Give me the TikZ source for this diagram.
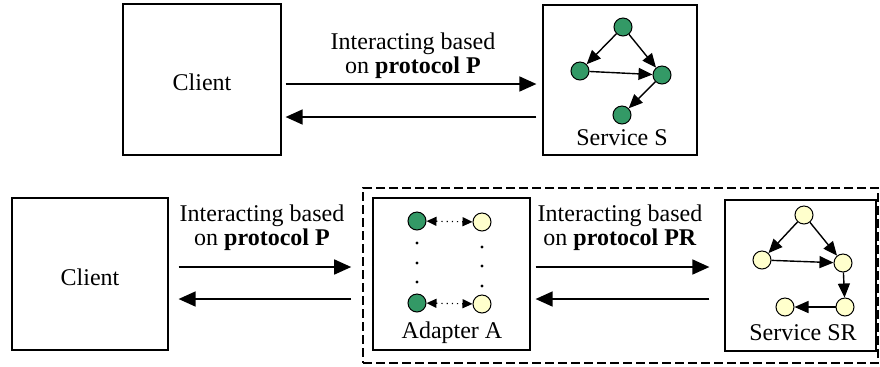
\documentclass[tikz,border=0pt]{standalone}
\usepackage{fontspec}
\setmainfont{Liberation Serif}
\usetikzlibrary{arrows.meta}
\definecolor{nodegreen}{RGB}{51,153,102}
\definecolor{nodeyellow}{RGB}{255,255,204}
\tikzset{
  box/.style={draw, line width=0.6pt, rectangle, inner sep=0pt},
  lbl/.style={font=\fontsize{12}{10.5}\selectfont, align=center, inner sep=0pt},
  flow/.style={line width=0.8pt, -{Triangle[length=8.5pt,width=7.5pt]}},
  gn/.style={circle, draw, line width=0.5pt, fill=nodegreen, minimum size=9pt, inner sep=0pt},
  yn/.style={circle, draw, line width=0.5pt, fill=nodeyellow, minimum size=9pt, inner sep=0pt},
  edge/.style={line width=0.7pt, -{Triangle[length=7pt,width=6pt]}},
  link/.style={line width=0.6pt, dotted, {Triangle[length=5pt,width=4.5pt]}-{Triangle[length=5pt,width=4.5pt]}},
  dot/.style={circle, fill=black, minimum size=1.6pt, inner sep=0pt},
}
\begin{document}
\begin{tikzpicture}[x=0.5pt, y=-0.5pt]
\useasboundingbox (0,0) rectangle (880,366);

% ---- upper row: client talking to service S directly ----
\node[box, minimum width=79pt, minimum height=75.5pt] (c1) at (202,79.5) {};
\node[lbl] (c1t) at (202,82) {Client};
\node[box, minimum width=77pt, minimum height=75pt] (s1) at (620,80) {};
\node[lbl] (s1t) at (622,138) {Service S};
\node[lbl] (p1) at (413,56) {Interacting based\\on \textbf{protocol P}};
\draw[flow, shorten <=2pt, shorten >=3pt] (c1.east |- 0,84) -- (s1.west |- 0,84);
\draw[flow, shorten <=3pt, shorten >=2pt] (s1.west |- 0,117) -- (c1.east |- 0,117);

% graph inside service S
\node[gn] (sa) at (623,27) {};
\node[gn] (sb) at (580,71) {};
\node[gn] (sc) at (662,75) {};
\node[gn] (sd) at (622,115) {};
\draw[edge] (sa) -- (sb);
\draw[edge] (sa) -- (sc);
\draw[edge] (sb) -- (sc);
\draw[edge] (sc) -- (sd);

% ---- lower row: client, adapter A and service SR ----
\node[draw, dash pattern=on 4.5pt off 2pt, line width=0.8pt, minimum width=257.5pt, minimum height=87.5pt, inner sep=0pt] (grp) at (620.5,275.5) {};
\node[box, minimum width=78pt, minimum height=76pt] (c2) at (90,274) {};
\node[lbl] (c2t) at (90,277) {Client};
\node[box, minimum width=78.5pt, minimum height=76pt] (ad) at (451.5,274) {};
\node[lbl] (adt) at (452,333) {Adapter A};
\node[box, minimum width=75.5pt, minimum height=75.5pt] (s2) at (800.5,275.5) {};
\node[lbl] (s2t) at (803,333) {Service SR};
\node[lbl] (p2) at (262,228) {Interacting based\\on \textbf{protocol P}};
\node[lbl] (p3) at (620,228) {Interacting based\\on \textbf{protocol PR}};

\draw[flow, shorten <=5pt, shorten >=5.5pt] (c2.east |- 0,267) -- (grp.west |- 0,267);
\draw[flow, shorten <=5.5pt, shorten >=5pt] (grp.west |- 0,299) -- (c2.east |- 0,299);
\draw[flow, shorten <=2.5pt, shorten >=7.5pt] (ad.east |- 0,267) -- (s2.west |- 0,267);
\draw[flow, shorten <=7.5pt, shorten >=2.5pt] (s2.west |- 0,299) -- (ad.east |- 0,299);

% adapter mapping between the two protocols
\node[gn] (ag1) at (417,221) {};
\node[yn] (ay1) at (482,222) {};
\node[gn] (ag2) at (417,303) {};
\node[yn] (ay2) at (482,304) {};
\draw[link] (ag1) -- (ay1);
\draw[link] (ag2) -- (ay2);
\node[dot] (dl1) at (417,243) {};
\node[dot] (dl2) at (417,263) {};
\node[dot] (dl3) at (417,282) {};
\node[dot] (dr1) at (482,247) {};
\node[dot] (dr2) at (482,266) {};
\node[dot] (dr3) at (482,286) {};

% graph inside service SR
\node[yn] (ra) at (804,215) {};
\node[yn] (rb) at (762,260) {};
\node[yn] (rc) at (843,263) {};
\node[yn] (rd) at (845,307) {};
\node[yn] (re) at (785,307) {};
\draw[edge] (ra) -- (rb);
\draw[edge] (ra) -- (rc);
\draw[edge] (rb) -- (rc);
\draw[edge] (rc) -- (rd);
\draw[edge] (rd) -- (re);
\end{tikzpicture}
\end{document}
